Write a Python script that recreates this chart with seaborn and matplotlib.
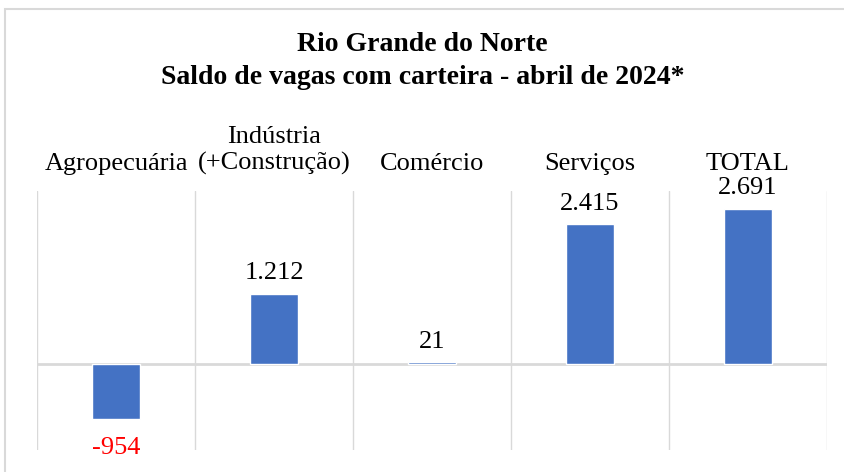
import pandas as pd
import matplotlib.pyplot as plt
import seaborn as sns
from matplotlib.patches import Rectangle

categorias = ['Agropecuária', 'Indústria\n(+Construção)', 'Comércio', 'Serviços', 'TOTAL']
saldo = [-954, 1212, 21, 2415, 2691]
rotulos = ['-954', '1.212', '21', '2.415', '2.691']
cores_rotulo = ['#FF0000', 'black', 'black', 'black', 'black']

df = pd.DataFrame({'categoria': categorias, 'saldo': saldo})

sns.set_style('white')
plt.rcParams['font.family'] = ['Liberation Serif', 'DejaVu Serif']
plt.rcParams['text.color'] = 'black'
plt.rcParams['xtick.color'] = 'black'

fig = plt.figure(figsize=(8.45, 4.72), dpi=100)
ax = fig.add_axes([37 / 845, 22 / 472, 790 / 845, 259.3 / 472])

sns.barplot(data=df, x='categoria', y='saldo', color='#4472C4',
            saturation=1, width=0.31, ax=ax)

ax.set_ylim(-1500, 3000)
ax.set_xlim(-0.5, len(categorias) - 0.5)
ax.set_xlabel('')
ax.set_ylabel('')
ax.set_yticks([])
ax.xaxis.tick_top()
ax.tick_params(axis='x', length=0, pad=11.5, labelsize=19, labelcolor='black')
for s in ax.spines.values():
    s.set_visible(False)

# linhas verticais entre categorias
for x in range(len(categorias) + 1):
    ax.axvline(x - 0.5, color='#d9d9d9', lw=1, zorder=0)
ax.axhline(0, color='#d9d9d9', lw=2, zorder=0)

for i, (v, txt, c) in enumerate(zip(saldo, rotulos, cores_rotulo)):
    off = 15 if v >= 0 else -21
    ax.annotate(txt, (i, v), xytext=(0, off), textcoords='offset points',
                ha='center', va='center', fontsize=19, color=c,
                annotation_clip=False)

fig.text(0.5, 1 - 61 / 472,
         'Rio Grande do Norte\nSaldo de vagas com carteira - abril de 2024*',
         ha='center', va='center', fontsize=20, fontweight='bold',
         linespacing=1.45, color='black')

# borda do gráfico
fig.patches.append(Rectangle((5 / 845, -0.1), 1.2, 1.1 - 9 / 472,
                             transform=fig.transFigure, fill=False,
                             edgecolor='#d9d9d9', lw=1.5))

plt.savefig('out.png', dpi=100)
